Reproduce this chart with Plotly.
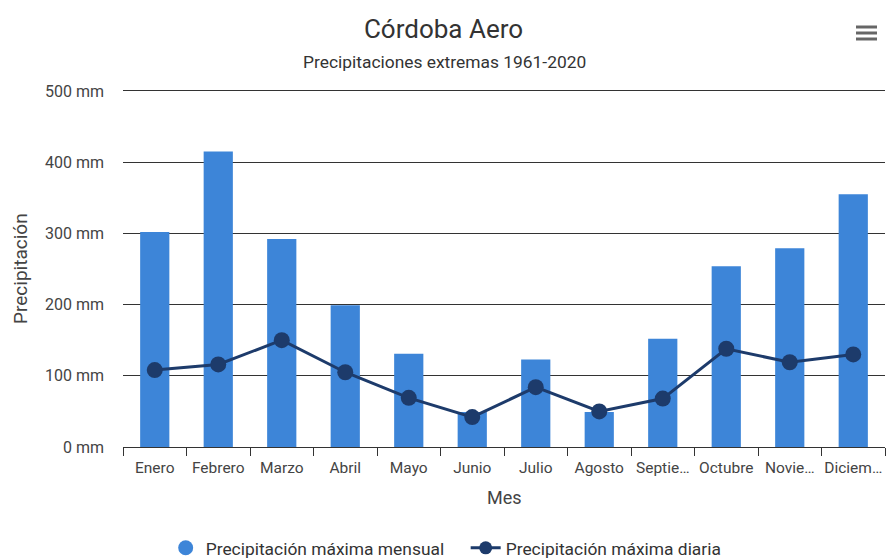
import plotly.graph_objects as go

# Monthly extreme precipitation, Córdoba Aero (1961-2020)
meses = ["Enero", "Febrero", "Marzo", "Abril", "Mayo", "Junio", "Julio",
         "Agosto", "Septie…", "Octubre", "Novie…", "Diciem…"]
max_mensual = [302, 415, 292, 199, 131, 49, 123, 49, 152, 254, 279, 355]
max_diaria = [108, 116, 150, 105, 69, 42, 84, 50, 68, 138, 119, 130]
y_ticks = [0, 100, 200, 300, 400, 500]

BAR = "#3d85d8"
LINE = "#1d3b6b"
FONT = "Roboto, 'Open Sans', sans-serif"

fig = go.Figure()
fig.add_trace(go.Bar(
    x=meses, y=max_mensual, name="Precipitación máxima mensual",
    marker=dict(color=BAR, line=dict(width=0)), showlegend=False,
))
fig.add_trace(go.Scatter(
    x=meses, y=max_diaria, name="Precipitación máxima diaria",
    mode="lines+markers", line=dict(color=LINE, width=3),
    marker=dict(color=LINE, size=16), showlegend=False,
))
# legend entries (circle swatch for the bars, line+dot for the daily series)
fig.add_trace(go.Scatter(
    x=[None], y=[None], mode="markers", name="Precipitación máxima mensual",
    marker=dict(color=BAR, size=15),
))
fig.add_trace(go.Scatter(
    x=[None], y=[None], mode="lines+markers", name="Precipitación máxima diaria",
    line=dict(color=LINE, width=3), marker=dict(color=LINE, size=13),
))

W, H = 887, 559
L, R, T, B = 123, 2, 87, 112
pw, ph = W - L - R, H - T - B


def px_x(px):
    return (px - L) / pw


def px_y(py):
    return (H - B - py) / ph


shapes = []
for yy in (27, 33, 39):
    shapes.append(dict(type="line", xref="paper", yref="paper",
                       x0=px_x(856), x1=px_x(877), y0=px_y(yy), y1=px_y(yy),
                       line=dict(color="#666666", width=3)))

fig.update_layout(
    width=W, height=H,
    margin=dict(l=L, r=R, t=T, b=B),
    paper_bgcolor="white", plot_bgcolor="white",
    font=dict(family=FONT, color="#444444", size=15),
    bargap=0.54,
    title=dict(text="Córdoba Aero", x=0.5, xref="container", xanchor="center",
               y=1 - 29 / H, yref="container", yanchor="middle",
               font=dict(size=26, color="#333333", family=FONT)),
    annotations=[
        dict(text="Precipitaciones extremas 1961-2020", xref="paper", yref="paper",
             x=px_x(444), y=px_y(62), xanchor="center", yanchor="middle", showarrow=False,
             font=dict(size=17.4, color="#333333", family=FONT)),
        dict(text="Precipitación", xref="paper", yref="paper", x=px_x(20), y=px_y(269),
             xanchor="center", yanchor="middle", textangle=-90, showarrow=False,
             font=dict(size=19, color="#444444", family=FONT)),
        dict(text="Mes", xref="paper", yref="paper", x=px_x(504), y=px_y(497),
             xanchor="center", yanchor="middle", showarrow=False,
             font=dict(size=18, color="#444444", family=FONT)),
    ],
    shapes=shapes,
    xaxis=dict(
        type="category", tickson="boundaries", ticks="outside", ticklen=8,
        tickcolor="#333333", tickwidth=1, showline=True, linecolor="#333333",
        linewidth=1, showgrid=False, tickfont=dict(size=15.5, color="#444444"),
        tickangle=0, ticklabelstandoff=6, range=[-0.5, 11.5],
    ),
    yaxis=dict(
        range=[0, 505.6], tickvals=y_ticks, ticktext=[f"{v} mm" for v in y_ticks],
        showgrid=True, gridcolor="#333333", gridwidth=1, zeroline=False,
        ticks="", ticklabelstandoff=18, tickfont=dict(size=16, color="#444444"),
    ),
    legend=dict(orientation="h", x=0.525, xref="container", xanchor="center",
                y=1 - 548 / H, yref="container", yanchor="middle",
                font=dict(size=17.4, color="#333333", family=FONT),
                traceorder="normal", entrywidth=255),
)

fig.write_html("out.html")
